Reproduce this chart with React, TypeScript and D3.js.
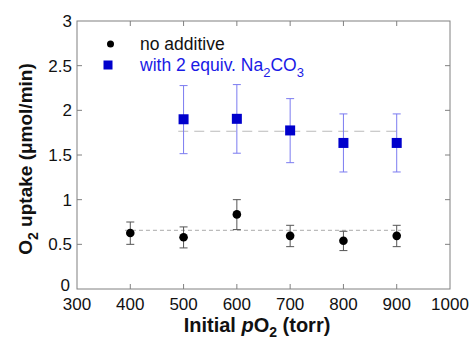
import { useEffect, useRef } from "react";
import * as d3 from "d3";

const pressures = [400, 500, 600, 700, 800, 900];
const noAdditive = [0.627, 0.58, 0.835, 0.595, 0.54, 0.595];
const noAdditiveLow = [0.5, 0.46, 0.665, 0.474, 0.43, 0.474];
const noAdditiveHigh = [0.75, 0.695, 1.0, 0.713, 0.646, 0.713];

const na2co3Pressures = [500, 600, 700, 800, 900];
const na2co3 = [1.9, 1.905, 1.775, 1.635, 1.635];
const na2co3Low = [1.515, 1.52, 1.414, 1.31, 1.31];
const na2co3High = [2.277, 2.288, 2.131, 1.96, 1.96];

const meanNoAdditive = 0.657;
const meanNa2co3 = 1.766;

const xTicks = [300, 400, 500, 600, 700, 800, 900, 1000];
const yTicks = [0, 0.5, 1, 1.5, 2, 2.5, 3];

const App = () => {
  const svgRef = useRef<SVGSVGElement>(null);
  const width = 471;
  const height = 342;

  useEffect(() => {
    const svg = d3.select(svgRef.current);
    svg.selectAll("*").remove();

    const margin = { left: 77, top: 21, right: 21, bottom: 53 };
    const innerWidth = width - margin.left - margin.right;
    const innerHeight = height - margin.top - margin.bottom;
    const font = "Arial, 'Liberation Sans', sans-serif";
    const axisColor = "#808080";

    const x = d3.scaleLinear().domain([300, 1000]).range([0, innerWidth]);
    const y = d3.scaleLinear().domain([0, 3]).range([innerHeight, 0]);

    const g = svg.append("g").attr("transform", `translate(${margin.left} ${margin.top})`);

    // frame
    g.append("rect")
      .attr("width", innerWidth)
      .attr("height", innerHeight)
      .attr("fill", "none")
      .attr("stroke", axisColor);

    const tl = 5;
    const innerX = xTicks.slice(1, -1);
    const innerY = yTicks.slice(1, -1);
    innerX.forEach(t => {
      g.append("line").attr("x1", x(t)).attr("x2", x(t)).attr("y1", innerHeight).attr("y2", innerHeight - tl).attr("stroke", axisColor);
      g.append("line").attr("x1", x(t)).attr("x2", x(t)).attr("y1", 0).attr("y2", tl).attr("stroke", axisColor);
    });
    innerY.forEach(t => {
      g.append("line").attr("x1", 0).attr("x2", tl).attr("y1", y(t)).attr("y2", y(t)).attr("stroke", axisColor);
      g.append("line").attr("x1", innerWidth).attr("x2", innerWidth - tl).attr("y1", y(t)).attr("y2", y(t)).attr("stroke", axisColor);
    });

    g.selectAll(".xt")
      .data(xTicks)
      .enter()
      .append("text")
      .attr("x", d => x(d))
      .attr("y", innerHeight + 21)
      .attr("text-anchor", "middle")
      .attr("font-family", font)
      .attr("font-size", 17)
      .attr("fill", "#111")
      .text(d => d);

    g.selectAll(".yt")
      .data(yTicks)
      .enter()
      .append("text")
      .attr("x", d => (d === 0 ? -7 : -5))
      .attr("y", d => y(d) + (d === 0 ? 2 : 6))
      .attr("text-anchor", "end")
      .attr("font-family", font)
      .attr("font-size", 17)
      .attr("fill", "#111")
      .text(d => d);

    // mean lines
    g.append("line")
      .attr("x1", x(390)).attr("x2", x(908))
      .attr("y1", y(meanNoAdditive)).attr("y2", y(meanNoAdditive))
      .attr("stroke", "#aaa").attr("stroke-dasharray", "4 3");
    g.append("line")
      .attr("x1", x(490)).attr("x2", x(908))
      .attr("y1", y(meanNa2co3)).attr("y2", y(meanNa2co3))
      .attr("stroke", "#bbb").attr("stroke-width", 1.2).attr("stroke-dasharray", "10 6");

    const errBars = (xs: number[], lo: number[], hi: number[], color: string) => {
      xs.forEach((p, i) => {
        const cx = x(p);
        g.append("line").attr("x1", cx).attr("x2", cx).attr("y1", y(lo[i])).attr("y2", y(hi[i])).attr("stroke", color);
        g.append("line").attr("x1", cx - 4).attr("x2", cx + 4).attr("y1", y(lo[i])).attr("y2", y(lo[i])).attr("stroke", color);
        g.append("line").attr("x1", cx - 4).attr("x2", cx + 4).attr("y1", y(hi[i])).attr("y2", y(hi[i])).attr("stroke", color);
      });
    };
    errBars(pressures, noAdditiveLow, noAdditiveHigh, "#555");
    errBars(na2co3Pressures, na2co3Low, na2co3High, "#7b7bf0");

    g.selectAll(".dot")
      .data(noAdditive)
      .enter()
      .append("circle")
      .attr("cx", (d, i) => x(pressures[i]))
      .attr("cy", d => y(d))
      .attr("r", 4.3)
      .attr("fill", "#000");

    const sq = 10;
    g.selectAll(".sq")
      .data(na2co3)
      .enter()
      .append("rect")
      .attr("x", (d, i) => x(na2co3Pressures[i]) - sq / 2)
      .attr("y", d => y(d) - sq / 2)
      .attr("width", sq)
      .attr("height", sq)
      .attr("fill", "#0000cc");

    // legend
    g.append("circle").attr("cx", 110.5 - margin.left).attr("cy", 44 - margin.top).attr("r", 3.5).attr("fill", "#000");
    g.append("text")
      .attr("x", 140 - margin.left).attr("y", 50 - margin.top)
      .attr("font-family", font).attr("font-size", 17.5).attr("fill", "#111")
      .text("no additive");
    g.append("rect").attr("x", 108 - 4.5 - margin.left).attr("y", 65 - 4.5 - margin.top).attr("width", 9).attr("height", 9).attr("fill", "#0000cc");
    const lt = g.append("text")
      .attr("x", 140 - margin.left).attr("y", 71 - margin.top)
      .attr("font-family", font).attr("font-size", 17.5).attr("fill", "#1a1ae6");
    lt.append("tspan").text("with 2 equiv. Na");
    lt.append("tspan").attr("dy", 6).attr("font-size", 13).text("2");
    lt.append("tspan").attr("dy", -6).text("CO");
    lt.append("tspan").attr("dy", 6).attr("font-size", 13).text("3");

    // axis titles
    const xl = svg.append("text")
      .attr("x", 257)
      .attr("y", 332)
      .attr("text-anchor", "middle")
      .attr("font-family", font).attr("font-size", 20).attr("font-weight", "bold").attr("fill", "#111");
    xl.append("tspan").text("Initial ");
    xl.append("tspan").attr("font-style", "italic").text("p");
    xl.append("tspan").text("O");
    xl.append("tspan").attr("dy", 5).attr("font-size", 14).text("2");
    xl.append("tspan").attr("dy", -5).text(" (torr)");

    const yl = svg.append("text")
      .attr("transform", `translate(32 ${margin.top + innerHeight / 2 + 4}) rotate(-90)`)
      .attr("text-anchor", "middle")
      .attr("font-family", font).attr("font-size", 19).attr("font-weight", "bold").attr("fill", "#111");
    yl.append("tspan").text("O");
    yl.append("tspan").attr("dy", 6).attr("font-size", 14).text("2");
    yl.append("tspan").attr("dy", -6).text(" uptake (μmol/min)");
  }, []);

  return (
    <svg
      ref={svgRef}
      width={width}
      height={height}
      style={{ position: "absolute", left: 0, top: 0 }}
    />
  );
};

export default App;
